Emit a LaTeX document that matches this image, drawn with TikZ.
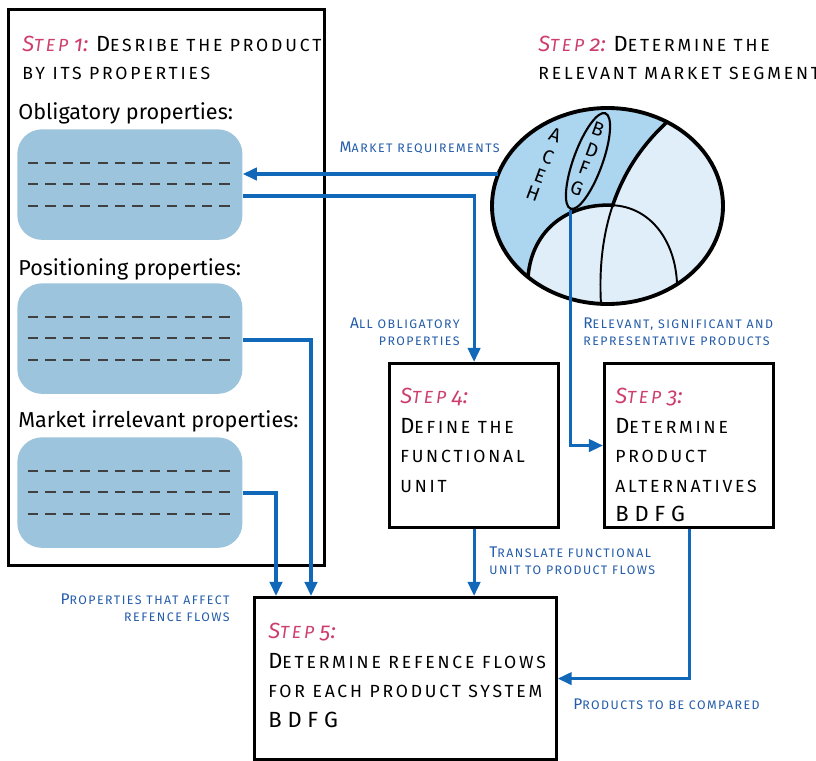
\documentclass[tikz,border=0pt]{standalone}
\usepackage{fontspec}
\setmainfont{Fira Sans}[Numbers=OldStyle]
\usepackage{xcolor}
\usepackage{graphicx}
\usetikzlibrary{positioning, calc, arrows.meta, shapes.geometric}

\definecolor{stepred}{RGB}{205,62,108}
\definecolor{flowblue}{RGB}{18,104,184}
\definecolor{lblblue}{RGB}{36,92,170}
\definecolor{propfill}{RGB}{156,196,221}
\definecolor{segdark}{RGB}{172,213,240}
\definecolor{seglight}{RGB}{224,238,250}

\newcommand\smcls{16}
\newcommand\smc[1]{\scalebox{0.8}{\addfontfeatures{LetterSpace=\smcls}\MakeUppercase{#1}}}
\newcommand\stepno[1]{\textcolor{stepred}{\itshape S\smc{tep} #1:}}

\begin{document}
\begin{tikzpicture}[x=0.02cm, y=-0.02cm,
    txt/.style={inner sep=0pt, font=\fontsize{12.5}{16.8}\selectfont},
    head/.style={inner sep=0pt, font=\fontsize{12.3}{14}\selectfont},
    lbl/.style={inner sep=0pt, text=lblblue, font={\renewcommand\smcls{12}\fontsize{8.8}{10.2}\selectfont}},
    frame/.style={draw, line width=1.6pt, inner sep=0pt},
    propbox/.style={fill=propfill, rounded corners=14pt, inner sep=0pt,
      minimum width=128.1pt, minimum height=62.9pt, anchor=north west},
    dashrow/.style={draw=black!75, line width=0.6pt, dash pattern=on 5.8pt off 4.1pt},
    flow/.style={draw=flowblue, line width=1.8pt, -{Triangle[length=8pt,width=7pt]}},
    letter/.style={inner sep=0pt, rotate=-20, font=\fontsize{11}{12}\selectfont}]
  \useasboundingbox (0,0) rectangle (816,761);

  % step 1: the product and its properties
  \node[frame, anchor=north west, minimum width=179.7pt, minimum height=316.3pt] (s1) at (7,8) {};
  \node[txt, anchor=base west] (t1a) at (22,51) {\stepno{1} D\smc{esribe the product}};
  \node[txt, anchor=base west] (t1b) at (22,79) {\smc{by its properties}};

  \node[head, anchor=base west] (hobl) at (18,119) {Obligatory properties:};
  \node[propbox] (obl) at (17,129) {};
  \node[head, anchor=base west] (hpos) at (18,275) {Positioning properties:};
  \node[propbox] (pos) at (17,283) {};
  \node[head, anchor=base west] (hirr) at (18,427) {Market irrelevant properties:};
  \node[propbox] (irr) at (17,437) {};
  \foreach \t in {129,283,437}
    \foreach \d in {34,55,77}
      \draw[dashrow] (28,{\t+\d}) -- (233,{\t+\d});

  % step 2: market segment
  \node[txt, anchor=base west] (t2a) at (538,51) {\stepno{2} D\smc{etermine the}};
  \node[txt, anchor=base west] (t2b) at (538,79) {\smc{relevant market segment}};

  \fill[seglight] (607.5,206) ellipse [x radius=115.5, y radius=98];
  \begin{scope}
    \clip (607.5,206) ellipse [x radius=115.5, y radius=98];
    \fill[segdark] (667,122) .. controls (640,147) and (623,174.75) .. (612.75,205.25)
      .. controls (570,203) and (532,228) .. (528,277) -- (470,330) -- (470,80) -- (690,80) -- cycle;
  \end{scope}
  \draw[line width=1.1pt] (612.75,205.25) .. controls (602.5,235.75) and (599,269) .. (601,304);
  \draw[line width=1.1pt] (612.75,205.25) .. controls (650,207) and (675,240) .. (677,283);
  \draw[line width=2pt] (528,277) .. controls (532,228) and (570,203) .. (612.75,205.25)
    .. controls (623,174.75) and (640,147) .. (667,122);
  \draw[line width=2.2pt] (607.5,206) ellipse [x radius=115.5, y radius=98];
  \coordinate (segW) at (498,174);

  \node[draw, ellipse, line width=1.2pt, inner sep=0pt, minimum width=57.8pt,
    minimum height=16.5pt, rotate=70] (bdfg) at (588,161) {};
  \foreach \l/\x/\y in {B/598/129, D/592/150, F/584/168, G/577/188,
                        A/555/135, C/548/157, E/540/176, H/533/193}
    \node[letter] (let\l) at (\x,\y) {\l};

  % steps 3, 4 and 5
  \node[frame, anchor=north west, minimum width=96.4pt, minimum height=93.5pt] (s4) at (388,362) {};
  \node[txt, anchor=north west, align=left] (t4) at (400,388)
    {\stepno{4}\\D\smc{efine the}\\\smc{functional}\\\smc{unit}};
  \node[frame, anchor=north west, minimum width=96.4pt, minimum height=93.5pt] (s3) at (603,362) {};
  \node[txt, anchor=north west, align=left] (t3) at (615,388)
    {\stepno{3}\\D\smc{etermine}\\\smc{product}\\\smc{alternatives}\\B D F G};
  \node[frame, anchor=north west, minimum width=171.8pt, minimum height=92.4pt] (s5) at (253,596) {};
  \node[txt, anchor=north west, align=left] (t5) at (268,623)
    {\stepno{5}\\D\smc{etermine refence flows}\\\smc{for each product system}\\B D F G};

  % flows
  \draw[flow] (segW) -- (segW -| obl.east);
  \draw[flow] (obl.east |- 0,196) -| (s4.north);
  \draw[flow] (bdfg.west) |- (s3.west);
  \draw[flow] (pos.east |- 0,340) -| (s5.north -| 311,0);
  \draw[flow] (irr.east |- 0,493) -| (s5.north -| 276,0);
  \draw[flow] (s4.south) -- (s4.south |- s5.north);
  \draw[flow] (s3.south) |- (s5.east);

  \node[lbl, anchor=base east] (lmr) at (500,152) {M\smc{arket requirements}};
  \node[lbl, anchor=north east, align=right] (lao) at (460,317) {A\smc{ll obligatory}\\\smc{properties}};
  \node[lbl, anchor=north west, align=left] (lrs) at (583,317) {R\smc{elevant, significant and}\\\smc{representative products}};
  \node[lbl, anchor=north east, align=right] (lpa) at (230,593) {P\smc{roperties that affect}\\\smc{refence flows}};
  \node[lbl, anchor=north west, align=left] (ltf) at (489,546) {T\smc{ranslate functional}\\\smc{unit to product flows}};
  \node[lbl, anchor=base west] (lpc) at (573,709) {P\smc{roducts to be compared}};
\end{tikzpicture}
\end{document}
